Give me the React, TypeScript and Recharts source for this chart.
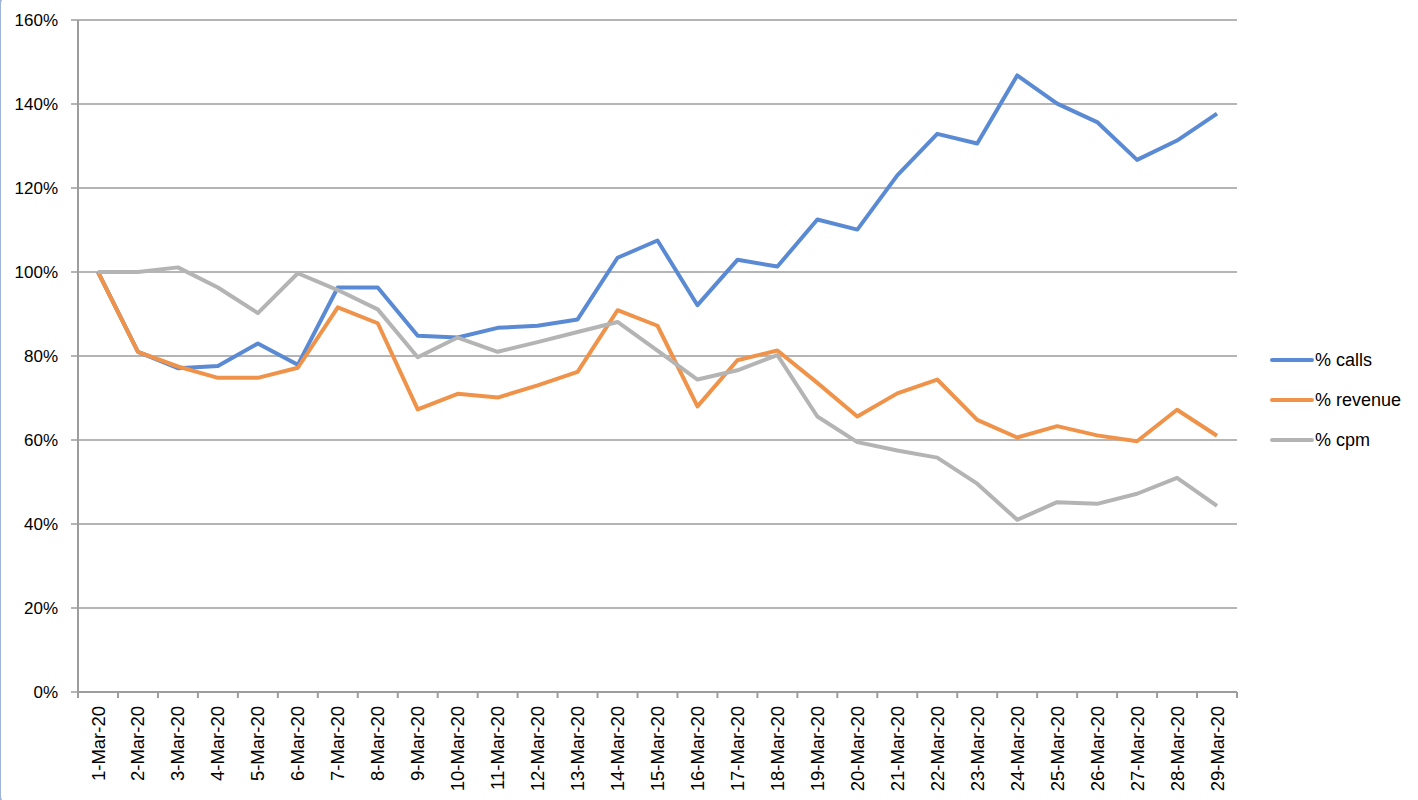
import React from "react";
import { LineChart, Line, XAxis, YAxis, CartesianGrid } from "recharts";

const dates = [
  "1-Mar-20", "2-Mar-20", "3-Mar-20", "4-Mar-20", "5-Mar-20", "6-Mar-20", "7-Mar-20",
  "8-Mar-20", "9-Mar-20", "10-Mar-20", "11-Mar-20", "12-Mar-20", "13-Mar-20", "14-Mar-20",
  "15-Mar-20", "16-Mar-20", "17-Mar-20", "18-Mar-20", "19-Mar-20", "20-Mar-20", "21-Mar-20",
  "22-Mar-20", "23-Mar-20", "24-Mar-20", "25-Mar-20", "26-Mar-20", "27-Mar-20", "28-Mar-20",
  "29-Mar-20",
];

const calls = [
  100, 81, 77.1, 77.6, 83, 77.9, 96.3, 96.3, 84.8, 84.4, 86.7, 87.2, 88.7, 103.4, 107.5,
  92.1, 102.9, 101.3, 112.5, 110.1, 123, 132.9, 130.6, 146.8, 140.1, 135.7, 126.7, 131.3, 137.7,
];

const revenue = [
  100, 81, 77.5, 74.8, 74.8, 77.2, 91.6, 87.8, 67.3, 71, 70.1, 73, 76.2, 90.9, 87.2,
  68, 79, 81.3, 73.6, 65.6, 71.1, 74.4, 64.8, 60.6, 63.3, 61.1, 59.7, 67.2, 61,
];

const cpm = [
  100, 100, 101.1, 96.3, 90.2, 99.7, 95.7, 91.1, 79.7, 84.4, 81, 83.3, 85.7, 88.1, 81.3,
  74.4, 76.6, 80.2, 65.6, 59.5, 57.5, 55.8, 49.6, 41, 45.2, 44.8, 47.2, 51, 44.3,
];

const yTicks = [0, 20, 40, 60, 80, 100, 120, 140, 160];

const series = [
  { key: "calls", name: "% calls", color: "#5a8ad3" },
  { key: "revenue", name: "% revenue", color: "#f0934a" },
  { key: "cpm", name: "% cpm", color: "#b4b4b4" },
];

const data = dates.map((date, i) => ({
  date,
  calls: calls[i],
  revenue: revenue[i],
  cpm: cpm[i],
}));

const FONT = "'Liberation Sans', Arial, sans-serif";
const AXIS = "#9d9d9d";

const W = 1418;
const H = 800;
const MARGIN = { top: 20, right: 181, bottom: 0, left: 0 };
const Y_W = 78;
const X_H = 108;
const BAND_PAD = 20;
// half the distance between two categories, for boundary tick marks
const HALF =
  (W - MARGIN.left - MARGIN.right - Y_W - 2 * BAND_PAD) / (dates.length - 1) / 2;

function DateTick(props: any) {
  const { x, y, payload, index } = props;
  const last = index === dates.length - 1;
  return (
    <g>
      <line x1={x - HALF} y1={y} x2={x - HALF} y2={y + 6} stroke={AXIS} strokeWidth={2} />
      {last && (
        <line x1={x + HALF} y1={y} x2={x + HALF} y2={y + 6} stroke={AXIS} strokeWidth={2} />
      )}
      <text
        x={x}
        y={y + 14}
        transform={`rotate(-90, ${x}, ${y + 14})`}
        textAnchor="end"
        dominantBaseline="central"
        fontFamily={FONT}
        fontSize={18.5}
        fill="#000"
      >
        {payload.value}
      </text>
    </g>
  );
}

function LegendBox() {
  return (
    <div
      style={{
        position: "absolute",
        left: 1270,
        top: 340,
        fontFamily: FONT,
        fontSize: 18,
        color: "#000",
      }}
    >
      {series.map((s) => (
        <div key={s.key} style={{ display: "flex", alignItems: "center", height: 40 }}>
          <svg width={44} height={8}>
            <line x1={2} y1={4} x2={42} y2={4} stroke={s.color} strokeWidth={4} strokeLinecap="round" />
          </svg>
          <span style={{ marginLeft: 1 }}>{s.name}</span>
        </div>
      ))}
    </div>
  );
}

export default function App() {
  return (
    <div
      style={{
        position: "fixed",
        left: 0,
        top: 0,
        width: W,
        height: H,
        background: "#fff",
        overflow: "hidden",
      }}
    >
      <div
        style={{
          position: "absolute",
          left: -1,
          top: -6,
          width: W + 40,
          height: H + 12,
          border: "2px solid #9fb3d9",
          borderRadius: 10,
          boxSizing: "border-box",
        }}
      />
      <LineChart width={W} height={H} data={data} margin={MARGIN}>
        <CartesianGrid vertical={false} stroke={AXIS} strokeWidth={1.5} />
        <XAxis
          dataKey="date"
          height={X_H}
          interval={0}
          padding={{ left: BAND_PAD, right: BAND_PAD }}
          axisLine={{ stroke: AXIS, strokeWidth: 2 }}
          tickLine={false}
          tickSize={0}
          tickMargin={0}
          tick={(p: any) => <DateTick {...p} />}
        />
        <YAxis
          width={Y_W}
          domain={[0, 160]}
          ticks={yTicks}
          interval={0}
          tickFormatter={(v: number) => `${v}%`}
          axisLine={{ stroke: AXIS, strokeWidth: 2 }}
          tickLine={{ stroke: AXIS, strokeWidth: 1.5 }}
          tickSize={7}
          tickMargin={13}
          tick={{ fontFamily: FONT, fontSize: 17, fill: "#000" }}
        />
        {series.map((s) => (
          <Line
            key={s.key}
            name={s.name}
            dataKey={s.key}
            stroke={s.color}
            strokeWidth={4}
            strokeLinejoin="round"
            dot={false}
            activeDot={false}
            isAnimationActive={false}
          />
        ))}
      </LineChart>
      <LegendBox />
    </div>
  );
}
